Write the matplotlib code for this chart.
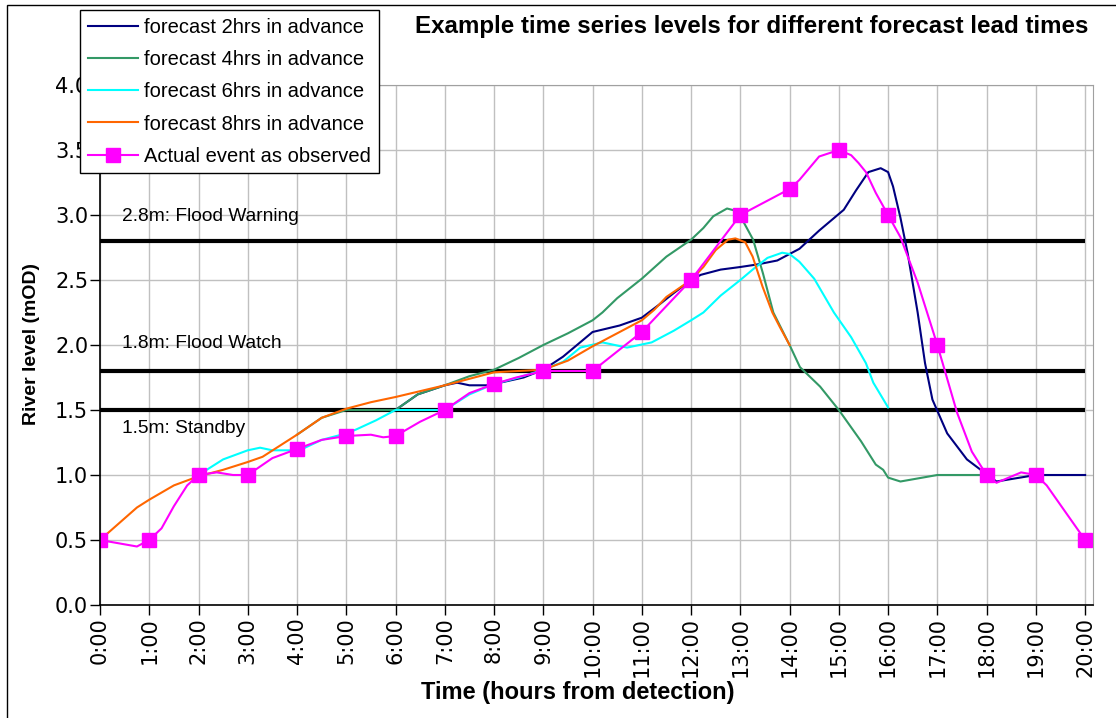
#!/usr/bin/env python3

"""Plot forecast river levels for different lead times against the observed event."""

import matplotlib
matplotlib.use('Agg')
import matplotlib.pyplot as plt
from matplotlib.patches import Rectangle

# forecast 2hrs in advance
f2_hours = [6.0, 6.45, 7.0, 7.25, 7.5, 7.85, 8.0, 8.6, 9.0, 9.4, 10.0, 10.55, 11.0, 11.35,
            11.65, 12.0, 12.2, 12.6, 13.0, 13.35, 13.75, 14.2, 14.6, 15.1, 15.35, 15.6,
            15.85, 16.0, 16.1, 16.25, 16.4, 16.6, 16.75, 16.9, 17.2, 17.6, 17.95, 18.2,
            19.0, 20.0]
f2_level = [1.50, 1.62, 1.69, 1.71, 1.69, 1.69, 1.70, 1.75, 1.81, 1.91, 2.10, 2.15, 2.21, 2.31,
            2.40, 2.50, 2.54, 2.58, 2.60, 2.62, 2.65, 2.74, 2.88, 3.04, 3.19, 3.33,
            3.36, 3.33, 3.22, 2.98, 2.70, 2.25, 1.86, 1.58, 1.32, 1.12, 1.02, 0.95,
            1.0, 1.0]

# forecast 4hrs in advance
f4_hours = [4.0, 4.5, 5.0, 6.0, 6.45, 7.0, 7.5, 8.0, 8.5, 9.0, 9.5, 10.0, 10.2, 10.5, 11.0,
            11.5, 12.0, 12.25, 12.45, 12.73, 12.93, 13.06, 13.26, 13.46, 13.67, 14.0,
            14.21, 14.62, 15.0, 15.45, 15.75, 15.9, 16.0, 16.25, 17.0, 18.0]
f4_level = [1.31, 1.44, 1.50, 1.50, 1.62, 1.69, 1.76, 1.81, 1.90, 2.00, 2.09, 2.19, 2.25, 2.36, 2.51,
            2.68, 2.81, 2.90, 2.99, 3.05, 3.03, 2.95, 2.81, 2.55, 2.25, 2.00,
            1.83, 1.68, 1.50, 1.26, 1.08, 1.04, 0.98, 0.95, 1.0, 1.0]

# forecast 6hrs in advance
f6_hours = [2.0, 2.5, 3.0, 3.25, 3.5, 4.05, 4.5, 5.0, 5.2, 5.6, 6.0, 7.0, 7.5, 8.0, 8.5, 9.0,
            9.4, 9.75, 10.2, 10.7, 11.2, 11.65, 12.0, 12.25, 12.6, 13.0, 13.25, 13.55,
            13.85, 14.0, 14.2, 14.5, 14.9, 15.25, 15.55, 15.7, 16.0]
f6_level = [1.0, 1.12, 1.19, 1.21, 1.19, 1.19, 1.27, 1.32, 1.35, 1.42, 1.50, 1.50, 1.62, 1.70, 1.75, 1.81,
            1.87, 1.98, 2.02, 1.98, 2.02, 2.11, 2.19, 2.25, 2.38, 2.50, 2.58, 2.67,
            2.71, 2.70, 2.64, 2.51, 2.25, 2.06, 1.86, 1.71, 1.52]

# forecast 8hrs in advance
f8_hours = [0.0, 0.75, 1.0, 1.5, 2.0, 2.5, 3.0, 3.3, 4.0, 4.5, 5.0, 5.5, 6.0, 7.0, 7.5, 8.0,
            9.0, 9.5, 10.0, 10.5, 11.0, 11.25, 11.5, 12.0, 12.25, 12.5, 12.75, 12.9,
            13.1, 13.25, 13.45, 13.65, 13.8, 14.0]
f8_level = [0.5, 0.75, 0.81, 0.92, 0.99, 1.04, 1.10, 1.14, 1.31, 1.44, 1.51, 1.56, 1.60, 1.69, 1.74, 1.79,
            1.81, 1.88, 1.99, 2.09, 2.19, 2.27, 2.37, 2.50, 2.60, 2.73, 2.81, 2.82,
            2.79, 2.68, 2.45, 2.25, 2.14, 2.0]

# actual event as observed (hourly readings)
obs_hours = list(range(0, 21))
obs_level = [0.5, 0.5, 1.0, 1.0, 1.2, 1.3, 1.3, 1.5, 1.7, 1.8, 1.8, 2.1, 2.5, 3.0, 3.2, 3.5,
             3.0, 2.0, 1.0, 1.0, 0.5]

# observed trace between the readings
trace_hours = [0, 0.75, 1, 1.25, 1.5, 1.77, 2, 2.37, 2.7, 3, 3.5, 4, 4.5, 5, 5.5, 5.75, 6, 6.5,
               7, 7.5, 8, 8.45, 9, 9.5, 10, 11, 12, 13, 13.45, 14, 14.2, 14.6, 15, 15.25,
               15.4, 15.55, 15.75, 16, 16.25, 16.6, 17, 17.4, 17.7, 18, 18.2, 18.7, 19,
               19.22, 20]
trace_level = [0.5, 0.45, 0.5, 0.59, 0.76, 0.92, 1.0, 1.02, 1.0, 1.0, 1.13, 1.2, 1.27, 1.3, 1.31, 1.29, 1.3, 1.41,
               1.5, 1.63, 1.7, 1.75, 1.8, 1.8, 1.8, 2.1, 2.5, 3.0, 3.09, 3.2, 3.27, 3.45, 3.5, 3.46,
               3.4, 3.33, 3.17, 3.0, 2.83, 2.48, 2.0, 1.48, 1.18, 1.0, 0.94, 1.02, 1.0,
               0.92, 0.5]

# warning thresholds
thresholds = [2.8, 1.8, 1.5]
threshold_lbls = ['2.8m: Flood Warning', '1.8m: Flood Watch', '1.5m: Standby']
threshold_lbl_y = [2.985, 2.015, 1.36]

hour_lbls = [f'{h}:00' for h in range(0, 21)]
level_ticks = [0.0, 0.5, 1.0, 1.5, 2.0, 2.5, 3.0, 3.5, 4.0]


def plot_graph(output_file):
    """
    Create the graph
    """
    plt.rcParams['font.family'] = ['Liberation Sans', 'DejaVu Sans']
    fig = plt.figure(figsize=(11.16, 7.18), dpi=100)
    ax1 = fig.add_axes([100 / 1116, 113 / 718, 993 / 1116, 520 / 718])

    # outer frame round the chart
    fig.patches.append(Rectangle((7 / 1116, -0.05), 1.1, 1.05 - 5 / 718,
                                 transform=fig.transFigure, fill=False,
                                 edgecolor='black', linewidth=1.0))

    # grid
    ax1.set_axisbelow(True)
    ax1.grid(which='major', axis='both', color='#c0c0c0', linewidth=1.0)

    # thresholds
    for lvl, lbl, ly in zip(thresholds, threshold_lbls, threshold_lbl_y):
        ax1.plot([0, 20], [lvl, lvl], color='black', linewidth=3.0, solid_capstyle='butt')
        ax1.text(0.45, ly, lbl, fontsize=13.8, va='center', ha='left')

    lw = 1.5
    ax1.plot(f2_hours, f2_level, color='#000080', linewidth=lw, label='forecast 2hrs in advance')
    ax1.plot(f4_hours, f4_level, color='#339966', linewidth=lw, label='forecast 4hrs in advance')
    ax1.plot(f6_hours, f6_level, color='#00ffff', linewidth=lw, label='forecast 6hrs in advance')
    ax1.plot(f8_hours, f8_level, color='#ff6600', linewidth=lw, label='forecast 8hrs in advance')
    ax1.plot(trace_hours, trace_level, color='#ff00ff', linewidth=lw)
    ax1.plot(obs_hours, obs_level, linestyle='none', marker='s', markersize=10,
             color='#ff00ff')
    # legend handle for the observed event
    ax1.plot([], [], color='#ff00ff', linewidth=lw, marker='s', markersize=10,
             label='Actual event as observed')

    # axes
    ax1.set_xlim([0, 20.16])
    ax1.set_ylim([0, 4])
    ax1.set_xticks(obs_hours)
    ax1.set_xticklabels(hour_lbls, rotation=90, fontsize=15, family='DejaVu Sans')
    ax1.set_yticks(level_ticks)
    ax1.set_yticklabels([f'{v:.1f}' for v in level_ticks], fontsize=15, family='DejaVu Sans')
    ax1.tick_params(axis='both', direction='out', length=7, width=1.0, colors='black', pad=1.5)
    for side in ['top', 'right']:
        ax1.spines[side].set_color('#a0a0a0')
    for side in ['left', 'bottom']:
        ax1.spines[side].set_linewidth(1.2)

    ax1.set_xlabel('Time (hours from detection)', fontsize=17, fontweight='bold')
    ax1.xaxis.set_label_coords((578 - 100) / 993, -(693 - 605) / 520)
    ax1.xaxis.label.set_va('center')
    ax1.set_ylabel('River level (mOD)', fontsize=14, fontweight='bold')
    ax1.yaxis.set_label_coords(-(100 - 32) / 993, (605 - 344) / 520)
    ax1.yaxis.label.set_va('center')

    fig.text(1088 / 1116, 1 - 27 / 718,
             'Example time series levels for different forecast lead times',
             fontsize=17.4, fontweight='bold', ha='right', va='center')

    leg = ax1.legend(loc='upper left', bbox_to_anchor=(80 / 1116, 1 - 10 / 718),
                     bbox_transform=fig.transFigure, fontsize=14.5, frameon=True,
                     fancybox=False, framealpha=1.0, edgecolor='black',
                     handlelength=2.5, handletextpad=0.3, labelspacing=0.66,
                     borderpad=0.38, borderaxespad=0)
    leg.get_frame().set_linewidth(1.0)
    leg.set_zorder(10)

    plt.savefig(fname=output_file, format='png', dpi=100)


def main():
    """
    This is the main loop
    """
    plot_graph('out.png')


if __name__ == "__main__":
    main()
